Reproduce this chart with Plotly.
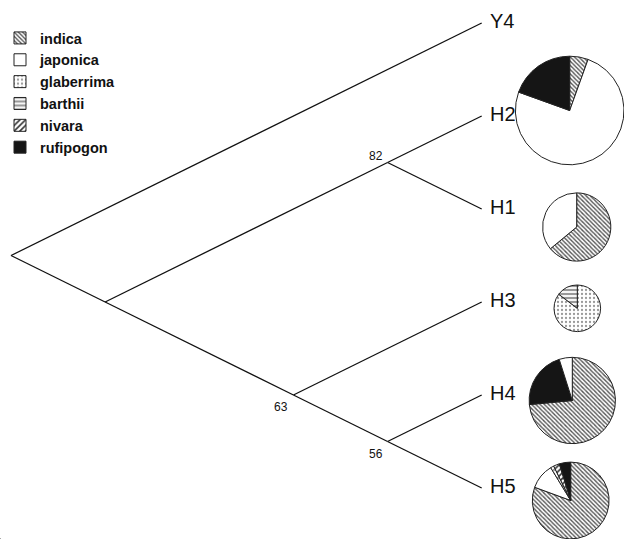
import math
import plotly.graph_objects as go

# ---- data -------------------------------------------------------------
species = ["indica", "japonica", "glaberrima", "barthii", "nivara", "rufipogon"]

# cladogram: nested tuples of tip names, internal nodes carry bootstrap support
tips = ["Y4", "H2", "H1", "H3", "H4", "H5"]
tree = ("Y4", (("H2", "H1"), ("H3", ("H4", "H5"))))
support = {("H2", "H1"): 82, ("H3", ("H4", "H5")): 63, ("H4", "H5"): 56}

# haplotype composition (%), slices listed clockwise from 12 o'clock
hap_names = ["H2", "H1", "H3", "H4", "H5"]
hap_species = [
    ["indica", "japonica", "rufipogon"],
    ["indica", "japonica"],
    ["glaberrima", "barthii"],
    ["indica", "rufipogon", "japonica"],
    ["indica", "japonica", "glaberrima", "nivara", "rufipogon"],
]
hap_percent = [
    [5.5, 75.0, 19.5],
    [64.0, 36.0],
    [85.3, 14.7],
    [73.5, 21.6, 4.9],
    [80.6, 10.7, 1.4, 2.5, 4.8],
]
hap_n = [38, 15, 7, 24, 19]

# ---- styling ----------------------------------------------------------
W, H = 624, 539
FONT = "Liberation Sans, Arial, Helvetica, sans-serif"

styles = {
    "indica":     dict(color="white", pattern=dict(shape="\\", fgcolor="#555", bgcolor="white", size=3, solidity=0.45)),
    "japonica":   dict(color="white", pattern=dict(shape="")),
    "glaberrima": dict(color="white", pattern=dict(shape=".", fgcolor="#999", bgcolor="white", size=4, solidity=0.25)),
    "barthii":    dict(color="white", pattern=dict(shape="-", fgcolor="#999", bgcolor="white", size=4, solidity=0.55)),
    "nivara":     dict(color="white", pattern=dict(shape="/", fgcolor="#333", bgcolor="white", size=4, solidity=0.4)),
    "rufipogon":  dict(color="#151515", pattern=dict(shape="")),
}

# pixel mapping of the tree axes
TIP_PX_X, ROOT_PX_X = 481.7, 11.0
TIP_PX_Y0, TIP_STEP = 23.0, 93.0

# pie placement (pixel nudges relative to each tip row) and size scale
PIE_COL_X = {"H2": 569.7, "H1": 576.7, "H3": 577.3, "H4": 572.3, "H5": 570.7}
PIE_NUDGE_Y = {"H2": -5.5, "H1": 18.0, "H3": 6.3, "H4": 5.5, "H5": 12.5}
PIE_K = 8.81

# ---- tree layout (slanted cladogram) -----------------------------------
tip_index = {t: i for i, t in enumerate(tips)}


def leaves(node):
    if isinstance(node, str):
        return [node]
    out = []
    for c in node:
        out += leaves(c)
    return out


def position(node):
    idx = [tip_index[t] for t in leaves(node)]
    lo, hi = min(idx), max(idx)
    return -(hi - lo) / 2.0, (hi + lo) / 2.0


seg_x, seg_y = [], []
node_labels = []


def walk(node):
    px, py = position(node)
    if isinstance(node, str):
        return
    if node in support:
        node_labels.append((px, py, support[node]))
    for c in node:
        cx, cy = position(c)
        seg_x.extend([px, cx, None])
        seg_y.extend([py, cy, None])
        walk(c)


walk(tree)

root_x, _ = position(tree)
x_scale = (TIP_PX_X - ROOT_PX_X) / (0 - root_x)          # px per x unit
x_range = [(0 - TIP_PX_X) / x_scale, (W - TIP_PX_X) / x_scale]
y_range = [(H - TIP_PX_Y0) / TIP_STEP, (0 - TIP_PX_Y0) / TIP_STEP]


def pie_marker(sp):
    return dict(
        colors=[styles[s]["color"] for s in sp],
        pattern=dict(
            shape=[styles[s]["pattern"].get("shape", "") for s in sp],
            fgcolor=[styles[s]["pattern"].get("fgcolor", "#000") for s in sp],
            bgcolor=[styles[s]["pattern"].get("bgcolor", styles[s]["color"]) for s in sp],
            size=[styles[s]["pattern"].get("size", 8) for s in sp],
            solidity=[styles[s]["pattern"].get("solidity", 0.3) for s in sp],
        ),
        line=dict(color="#222", width=1),
    )


fig = go.Figure()

# legend proxy: a vanishing pie carrying every species in legend order
fig.add_trace(go.Pie(
    labels=species, values=[1] * len(species), sort=False,
    domain=dict(x=[0, 0.0002], y=[0, 0.0002]),
    marker=pie_marker(species),
    textinfo="none", hoverinfo="skip", showlegend=True,
))

# tree branches
fig.add_trace(go.Scatter(
    x=seg_x, y=seg_y, mode="lines",
    line=dict(color="#111", width=1.3),
    hoverinfo="skip", showlegend=False,
))

annotations = []
for t in tips:
    annotations.append(dict(
        x=0, y=tip_index[t], xref="x", yref="y", text=t, showarrow=False,
        xanchor="left", yanchor="middle", xshift=6, yshift=2,
        font=dict(family=FONT, size=20, color="#111"),
    ))
for px, py, val in node_labels:
    below = py > 3  # labels on the lower clade sit under the node
    annotations.append(dict(
        x=px, y=py, xref="x", yref="y", text=str(val), showarrow=False,
        xanchor="center", yanchor="middle", xshift=-12,
        yshift=-12 if below else 7,
        font=dict(family=FONT, size=12, color="#111"),
    ))

# haplotype pies
for name, sp, pct, n in zip(hap_names, hap_species, hap_percent, hap_n):
    r = PIE_K * math.sqrt(n)
    cx = PIE_COL_X[name]
    cy = TIP_PX_Y0 + TIP_STEP * tip_index[name] + PIE_NUDGE_Y[name]
    dom_x = [max(0, (cx - r) / W), min(1, (cx + r) / W)]
    dom_y = [max(0, 1 - (cy + r) / H), min(1, 1 - (cy - r) / H)]
    fig.add_trace(go.Pie(
        labels=sp, values=pct, sort=False, direction="clockwise", rotation=0,
        domain=dict(x=dom_x, y=dom_y),
        marker=pie_marker(sp),
        textinfo="none", hoverinfo="label+percent", showlegend=True,
    ))

fig.update_layout(
    width=W, height=H,
    margin=dict(l=0, r=0, t=0, b=0),
    paper_bgcolor="white", plot_bgcolor="white",
    xaxis=dict(range=x_range, visible=False, fixedrange=True),
    yaxis=dict(range=y_range, visible=False, fixedrange=True),
    annotations=annotations,
    legend=dict(
        x=0.0, y=1 - 22 / H, xanchor="left", yanchor="top",
        bgcolor="rgba(0,0,0,0)", traceorder="normal",
        font=dict(family=FONT, size=14.5, color="#111", weight="bold"),
        itemwidth=30, tracegroupgap=0,
    ),
    showlegend=True,
)

fig.write_html("out.html")
